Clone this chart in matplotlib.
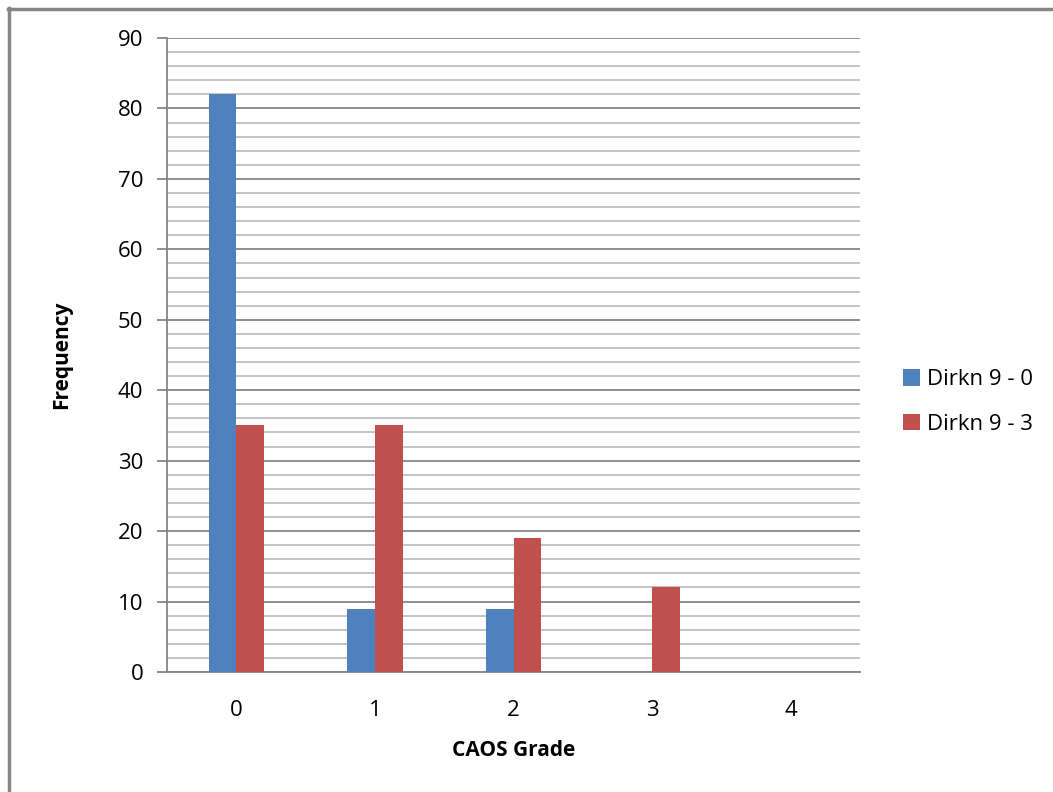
import numpy as np
import matplotlib.pyplot as plt
from matplotlib.lines import Line2D
from matplotlib.ticker import MultipleLocator

grades = ["0", "1", "2", "3", "4"]
dirkn_9_0 = [82, 9, 9, 0, 0]
dirkn_9_3 = [35, 35, 19, 12, 0]
series_names = ["Dirkn 9 - 0", "Dirkn 9 - 3"]

plt.rcParams['font.family'] = ['Open Sans', 'DejaVu Sans']

W, H = 1053, 792
fig = plt.figure(figsize=(W / 100, H / 100), dpi=100)
ax = fig.add_axes([167 / W, 1 - 672 / H, (860 - 167) / W, (672 - 38) / H])

x = np.arange(len(grades))
w = 0.2
ax.bar(x - w / 2, dirkn_9_0, w, color='#4F81BD', label=series_names[0], zorder=3)
ax.bar(x + w / 2, dirkn_9_3, w, color='#C0504D', label=series_names[1], zorder=3)

ax.set_xlim(-0.5, 4.5)
ax.set_ylim(0, 90)
ax.set_xticks(x)
ax.set_xticklabels(grades)
ax.yaxis.set_major_locator(MultipleLocator(10))
ax.yaxis.set_minor_locator(MultipleLocator(2))
ax.grid(which='major', axis='y', color='#868686', linewidth=1.3, zorder=0)
ax.grid(which='minor', axis='y', color='#BFBFBF', linewidth=1.3, zorder=0)
ax.tick_params(axis='y', which='major', length=7, color='#868686', width=1.3, labelsize=16, pad=10)
ax.tick_params(axis='y', which='minor', length=0)
ax.tick_params(axis='x', length=0, labelsize=16, pad=20)

for s in ['top', 'right']:
    ax.spines[s].set_visible(False)
for s in ['left', 'bottom']:
    ax.spines[s].set_color('#868686')
    ax.spines[s].set_linewidth(1.3)

ax.set_xlabel('CAOS Grade', fontsize=15, fontweight='bold', labelpad=14)
ax.set_ylabel('Frequency', fontsize=15, fontweight='bold', labelpad=33)

fig.legend(loc='center left', bbox_to_anchor=(903 / W, 1 - 402 / H), frameon=False,
           fontsize=16, handlelength=0.75, handleheight=0.75, handletextpad=0.35,
           labelspacing=1.05, borderpad=0, borderaxespad=0)

# outer chart frame
fig.add_artist(Line2D([8.5 / W, 8.5 / W], [0, 1 - 8 / H], color='#868686', linewidth=2.5))
fig.add_artist(Line2D([8 / W, 1052 / W], [1 - 9 / H, 1 - 9 / H], color='#868686', linewidth=2.5))

fig.savefig('out.png', dpi=100)
